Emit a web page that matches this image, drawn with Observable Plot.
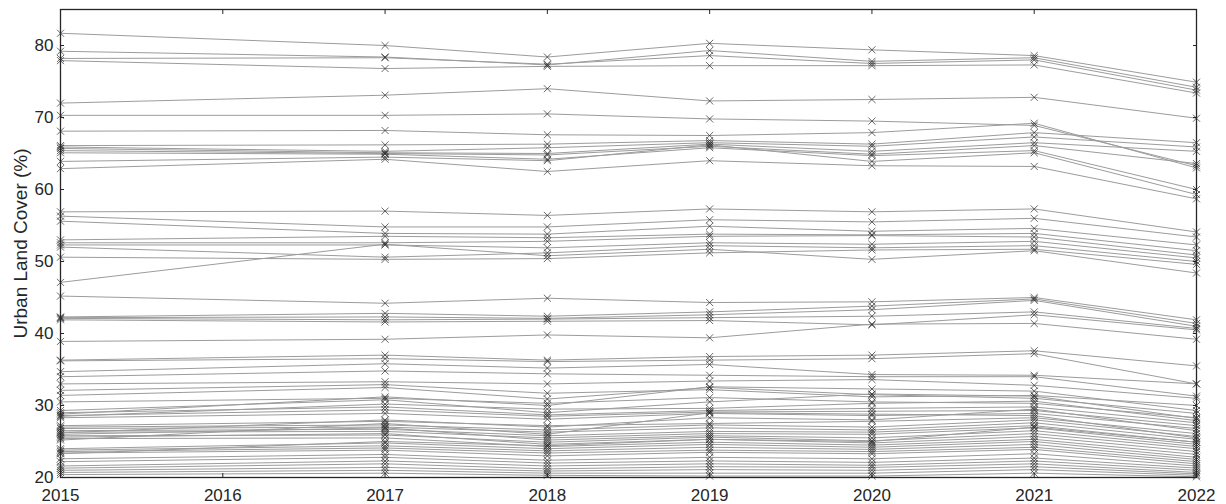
<!DOCTYPE html>
<html>
<head>
<meta charset="utf-8">
<script src="https://cdn.jsdelivr.net/npm/d3@7"></script>
<script src="https://cdn.jsdelivr.net/npm/@observablehq/plot@0.6"></script>
<style>
  html, body { margin: 0; padding: 0; background: #ffffff; }
  #chart svg { display: block; }
</style>
</head>
<body>
<div id="chart"></div>
<script>
// Survey years (2016 is missing from the record)
const years = [2015, 2017, 2018, 2019, 2020, 2021, 2022];
const xTicks = [2015, 2016, 2017, 2018, 2019, 2020, 2021, 2022];
const yTicks = [20, 30, 40, 50, 60, 70, 80];

// Urban land cover (%) per city, one row per city, one value per survey year
const highCities = [
  [81.7, 80.0, 78.4, 80.3, 79.4, 78.6, 74.9],
  [79.2, 78.4, 77.3, 79.3, 77.8, 78.3, 74.2],
  [78.2, 78.3, 77.4, 78.6, 77.5, 78.0, 73.8],
  [77.9, 76.8, 77.1, 77.2, 77.2, 77.3, 73.4],
  [72.0, 73.1, 74.0, 72.3, 72.5, 72.8, 69.9]
];

const upperCities = [
  [70.3, 70.3, 70.5, 69.8, 69.5, 68.9, 63.3],
  [68.1, 68.2, 67.6, 67.5, 67.9, 69.2, 63.0],
  [66.1, 66.2, 66.3, 66.8, 66.3, 67.9, 66.5],
  [65.9, 65.3, 65.8, 66.5, 66.0, 67.3, 65.9],
  [65.7, 65.1, 65.0, 66.3, 65.3, 66.5, 65.3],
  [65.4, 65.0, 64.8, 66.0, 64.9, 66.1, 63.6],
  [65.1, 64.9, 64.2, 65.8, 64.7, 65.4, 60.0],
  [63.9, 64.5, 64.0, 66.2, 63.9, 65.1, 59.3],
  [62.9, 64.2, 62.5, 64.0, 63.3, 63.2, 58.7]
];

const middleCities = [
  [56.9, 57.0, 56.4, 57.3, 56.9, 57.3, 54.1],
  [56.3, 54.8, 54.8, 55.8, 55.5, 56.0, 53.4],
  [55.6, 53.9, 53.8, 54.9, 54.2, 54.6, 52.3],
  [53.0, 53.5, 53.3, 53.8, 53.7, 53.9, 51.5],
  [52.6, 52.6, 52.8, 53.5, 53.6, 53.4, 50.9],
  [52.3, 52.3, 51.9, 52.6, 52.4, 52.8, 50.5],
  [52.0, 50.6, 51.2, 52.2, 51.9, 52.2, 50.0],
  [50.6, 50.3, 50.4, 51.2, 51.6, 51.7, 49.6],
  [47.1, 52.4, 50.8, 51.7, 50.3, 51.5, 48.4]
];

const fortiesCities = [
  [45.2, 44.2, 44.9, 44.3, 44.4, 45.0, 41.9],
  [42.3, 42.8, 42.4, 43.0, 43.8, 44.8, 41.4],
  [42.2, 42.3, 42.1, 42.6, 43.3, 44.6, 41.0],
  [42.1, 41.9, 42.0, 42.2, 42.4, 43.0, 40.7],
  [41.9, 41.6, 41.7, 41.8, 41.2, 42.6, 40.5],
  [38.9, 39.2, 39.8, 39.4, 41.3, 41.4, 39.2]
];

const thirtiesCities = [
  [36.3, 37.0, 36.3, 36.8, 37.0, 37.6, 35.5],
  [36.2, 36.5, 36.1, 36.3, 36.5, 37.2, 33.0],
  [34.7, 35.8, 35.2, 35.7, 34.3, 34.2, 33.0],
  [34.0, 34.8, 34.4, 34.2, 34.0, 34.0, 31.3],
  [33.0, 33.3, 33.0, 33.4, 33.6, 32.8, 31.0],
  [32.1, 32.9, 31.7, 32.2, 31.2, 31.4, 30.0],
  [31.4, 32.5, 30.9, 32.5, 31.5, 31.0, 28.9],
  [30.5, 31.0, 30.3, 31.1, 30.5, 30.3, 28.3]
];

const lowCities = [
  [29.3, 30.8, 29.0, 30.5, 31.6, 31.3, 28.2],
  [29.0, 29.8, 28.7, 29.3, 29.6, 29.8, 27.6],
  [28.8, 31.2, 30.0, 32.6, 32.3, 32.0, 29.3],
  [28.6, 29.4, 28.5, 29.1, 29.2, 29.3, 27.2],
  [28.5, 30.2, 29.5, 29.6, 30.3, 30.6, 27.9],
  [28.3, 28.9, 28.1, 28.9, 28.6, 28.9, 26.8],
  [27.2, 27.8, 27.2, 27.5, 27.8, 28.3, 26.1],
  [27.0, 27.3, 26.6, 27.3, 27.0, 28.0, 25.7],
  [26.8, 27.0, 26.3, 26.9, 26.6, 27.6, 25.3],
  [26.5, 26.7, 25.8, 26.4, 26.3, 27.2, 24.9],
  [26.3, 26.4, 25.5, 26.1, 26.0, 26.9, 24.6],
  [26.2, 28.0, 27.0, 28.3, 28.0, 29.5, 26.5],
  [26.0, 26.9, 25.2, 25.8, 25.5, 26.5, 24.3],
  [25.8, 25.9, 24.9, 25.6, 25.1, 26.1, 24.0],
  [25.6, 26.1, 24.6, 25.3, 24.8, 25.7, 23.6],
  [25.4, 25.5, 24.3, 24.9, 24.5, 25.3, 23.2],
  [25.2, 27.5, 26.0, 29.0, 28.8, 28.6, 25.5],
  [24.0, 24.8, 24.0, 24.6, 24.2, 25.0, 22.8],
  [23.8, 24.4, 23.7, 24.2, 23.9, 24.6, 22.5],
  [23.6, 24.1, 23.4, 23.8, 23.6, 24.2, 22.2],
  [23.4, 23.8, 23.0, 23.5, 23.3, 23.9, 21.9],
  [23.3, 25.0, 24.4, 25.3, 25.0, 27.0, 24.9],
  [22.6, 23.2, 22.4, 22.8, 22.6, 23.3, 21.6],
  [22.2, 22.8, 22.0, 22.3, 22.1, 22.7, 21.3],
  [21.6, 22.3, 21.6, 21.9, 21.7, 22.3, 21.0],
  [21.3, 21.9, 21.2, 21.5, 21.4, 21.9, 20.7],
  [21.0, 21.4, 20.9, 21.1, 21.0, 21.5, 20.5],
  [20.7, 21.0, 20.6, 20.6, 20.6, 21.1, 20.3],
  [20.4, 20.6, 20.3, 20.2, 20.2, 20.6, 20.1]
];

// Long table: one record per city and year
const cities = [highCities, upperCities, middleCities, fortiesCities, thirtiesCities, lowCities].flat();
const table = cities.flatMap((row, i) =>
  row.map((value, j) => ({city: i, year: years[j], value}))
);

const chart = Plot.plot({
  width: 1226,
  height: 504,
  marginTop: 9,
  marginRight: 30,
  marginBottom: 27,
  marginLeft: 60,
  style: {
    fontFamily: "'Liberation Sans', Arial, Helvetica, sans-serif",
    fontSize: "17px",
    color: "#262626",
    background: "#ffffff"
  },
  x: {domain: [2015, 2022]},
  y: {domain: [20, 85]},
  marks: [
    Plot.line(table, {x: "year", y: "value", z: "city", stroke: "#9c9c9c", strokeWidth: 1}),
    Plot.dot(table, {x: "year", y: "value", symbol: "times", r: 3.3, stroke: "#262626", strokeWidth: 0.7}),
    Plot.axisX({ticks: xTicks, tickFormat: "d", tickSize: -4, tickPadding: 15, label: null}),
    Plot.axisX({anchor: "top", ticks: xTicks, tickFormat: () => "", tickSize: -4, label: null}),
    Plot.axisY({ticks: yTicks, tickSize: -4, tickPadding: 11, label: null}),
    Plot.axisY({anchor: "right", ticks: yTicks, tickFormat: () => "", tickSize: -4, label: null}),
    // axis title, centred on the frame height
    Plot.axisY({ticks: [], label: "Urban Land Cover (%)", labelAnchor: "center", labelArrow: "none", labelOffset: 47, fontSize: 19}),
    Plot.frame({stroke: "#262626", strokeWidth: 1.3})
  ]
});

document.getElementById("chart").appendChild(chart);
</script>
</body>
</html>
